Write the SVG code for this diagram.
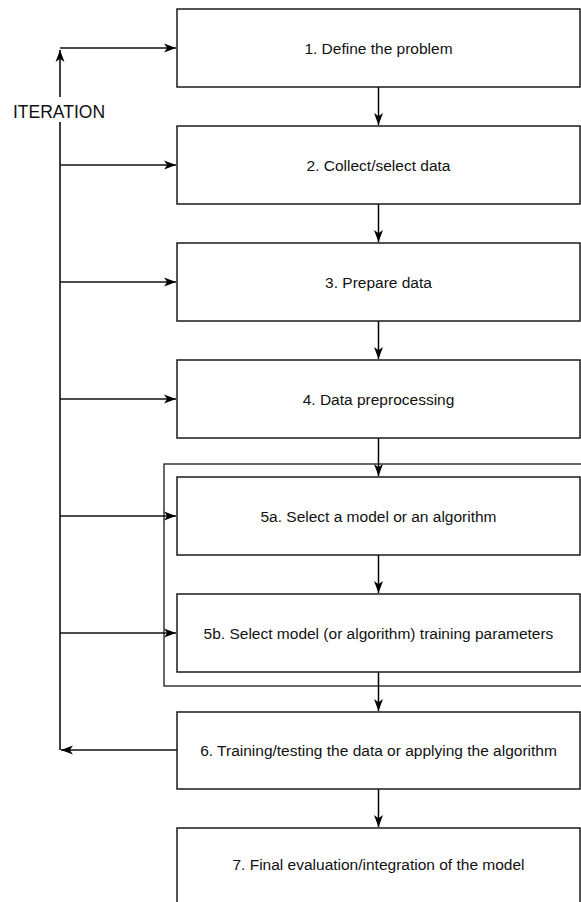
<svg xmlns="http://www.w3.org/2000/svg" width="581" height="902" viewBox="0 0 581 902">
<style>
.box{fill:#fff;stroke:#1a1a1a;stroke-width:1.5}
.lbl{font-family:"Liberation Sans",Arial,sans-serif;font-size:15.5px;fill:#111;text-anchor:middle}
.c{fill:none;stroke:#000;stroke-width:1.5}
.c2{fill:none;stroke:#111;stroke-width:1.3}
</style>
<defs>
<marker id="ah" markerUnits="userSpaceOnUse" markerWidth="13" markerHeight="11" viewBox="0 0 13 11" refX="12" refY="5.5" orient="auto">
<path d="M0,1 L12,5.5 L0,10 L3.2,5.5 Z" fill="#000"/>
</marker>
</defs>
<rect id="container" x="164" y="464" width="430" height="222" fill="none" stroke="#1a1a1a" stroke-width="1.3"/>
<g id="connectors">
<path class="c" d="M60,750 L60,50" marker-end="url(#ah)"/>
<path class="c2" d="M60,48 L176,48" marker-end="url(#ah)"/>
<path class="c2" d="M60,165 L176,165" marker-end="url(#ah)"/>
<path class="c2" d="M60,282 L176,282" marker-end="url(#ah)"/>
<path class="c2" d="M60,399 L176,399" marker-end="url(#ah)"/>
<path class="c2" d="M60,516 L176,516" marker-end="url(#ah)"/>
<path class="c2" d="M60,633 L176,633" marker-end="url(#ah)"/>
<path class="c2" d="M177,750 L61,750" marker-end="url(#ah)"/>
<path class="c" d="M378.5,87 L378.5,125" marker-end="url(#ah)"/>
<path class="c" d="M378.5,204 L378.5,242" marker-end="url(#ah)"/>
<path class="c" d="M378.5,321 L378.5,359" marker-end="url(#ah)"/>
<path class="c" d="M378.5,438 L378.5,476" marker-end="url(#ah)"/>
<path class="c" d="M378.5,555 L378.5,593" marker-end="url(#ah)"/>
<path class="c" d="M378.5,672 L378.5,711" marker-end="url(#ah)"/>
<path class="c" d="M378.5,789 L378.5,827" marker-end="url(#ah)"/>
</g>
<g id="iteration-label">
<rect x="10" y="97" width="100" height="25" fill="#fff"/>
<text x="13" y="118" font-family="'Liberation Sans',Arial,sans-serif" font-size="17.5" fill="#111">ITERATION</text>
</g>
<g id="n1"><rect class="box" x="177" y="9" width="403" height="78"/><text class="lbl" x="378.5" y="53.5">1. Define the problem</text></g>
<g id="n2"><rect class="box" x="177" y="126" width="403" height="78"/><text class="lbl" x="378.5" y="170.5">2. Collect/select data</text></g>
<g id="n3"><rect class="box" x="177" y="243" width="403" height="78"/><text class="lbl" x="378.5" y="287.5">3. Prepare data</text></g>
<g id="n4"><rect class="box" x="177" y="360" width="403" height="78"/><text class="lbl" x="378.5" y="404.5">4. Data preprocessing</text></g>
<g id="n5a"><rect class="box" x="177" y="477" width="403" height="78"/><text class="lbl" x="378.5" y="521.5">5a. Select a model or an algorithm</text></g>
<g id="n5b"><rect class="box" x="177" y="594" width="403" height="78"/><text class="lbl" x="378.5" y="638.5">5b. Select model (or algorithm) training parameters</text></g>
<g id="n6"><rect class="box" x="177" y="712" width="403" height="77"/><text class="lbl" x="378.5" y="755.5">6. Training/testing the data or applying the algorithm</text></g>
<g id="n7"><rect class="box" x="177" y="828" width="403" height="80"/><text class="lbl" x="378.5" y="870">7. Final evaluation/integration of the model</text></g>
</svg>
